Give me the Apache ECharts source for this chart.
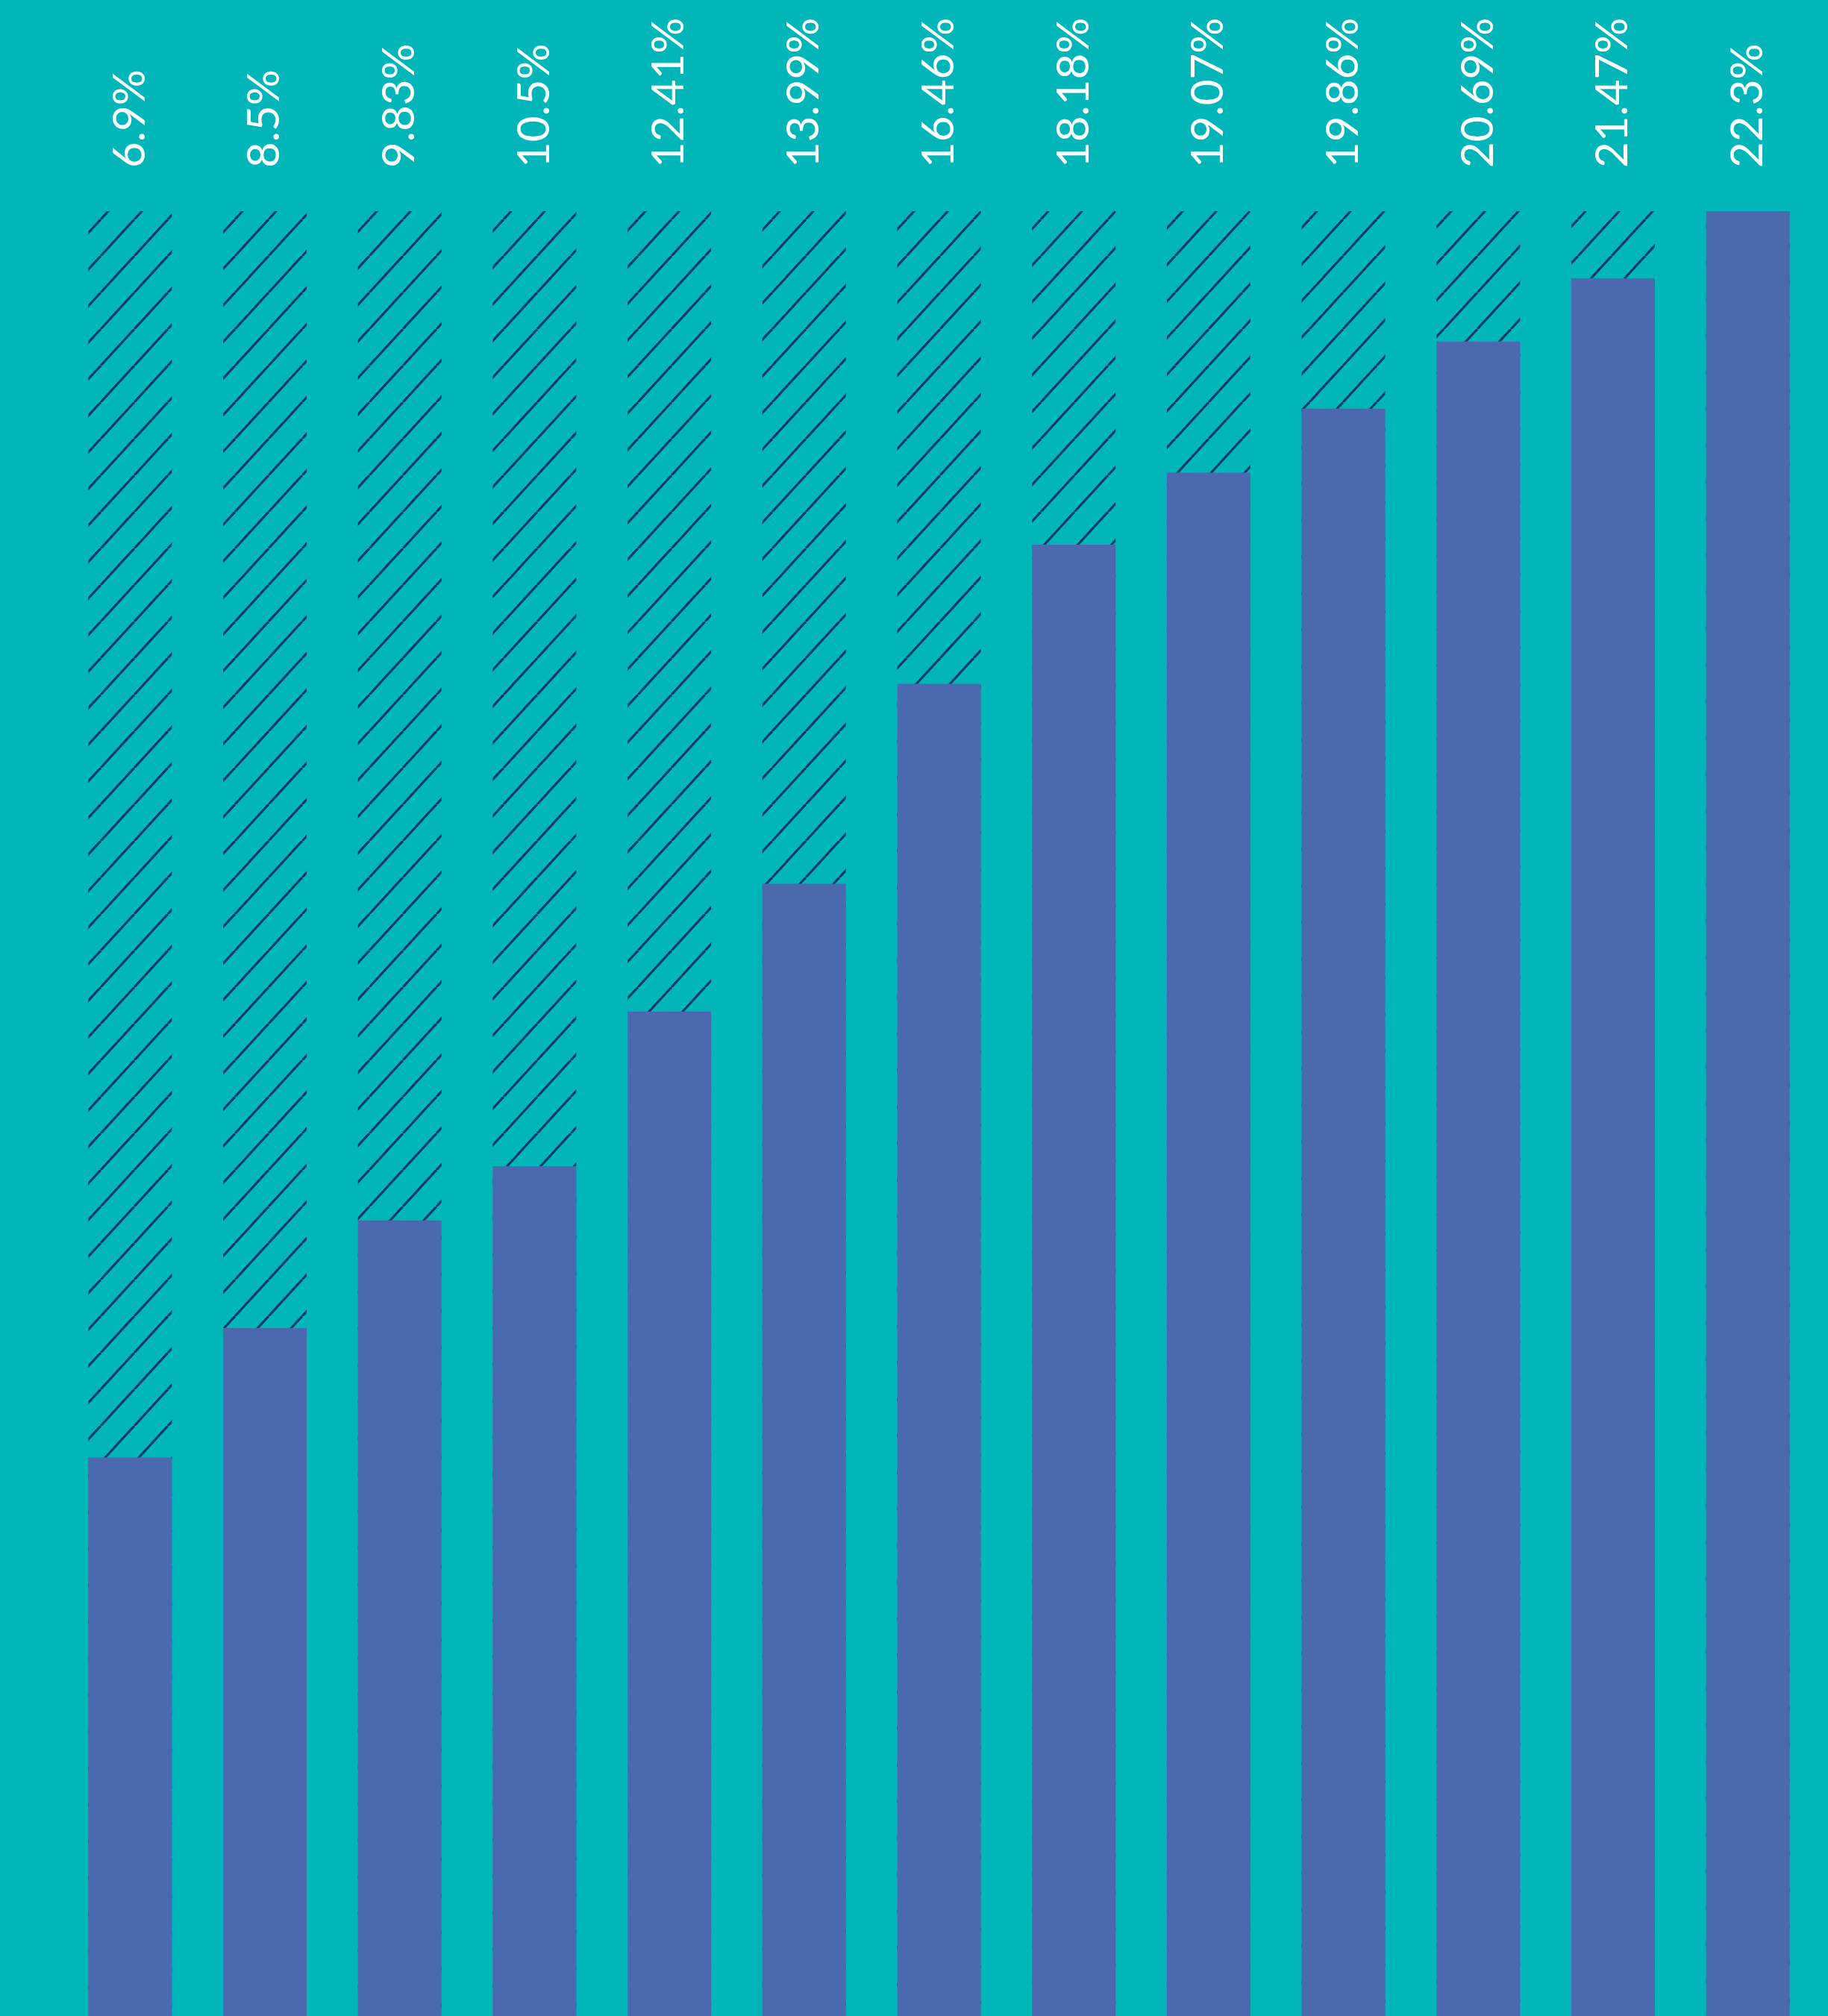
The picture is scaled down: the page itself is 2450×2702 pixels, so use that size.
<!DOCTYPE html>
<html>
<head>
<meta charset="utf-8">
<script src="https://cdn.jsdelivr.net/npm/echarts@6/dist/echarts.min.js"></script>
<style>
html,body{margin:0;padding:0;background:#00B6B9;}
#chart{width:2450px;height:2702px;}
</style>
</head>
<body>
<div id="chart"></div>
<script>
const categories = ['1','2','3','4','5','6','7','8','9','10','11','12','13'];
const values = [6.9, 8.5, 9.83, 10.5, 12.41, 13.99, 16.46, 18.18, 19.07, 19.86, 20.69, 21.47, 22.3];
const maxValue = Math.max(...values);
const backdrop = categories.map(() => maxValue);

// hatch pattern tile
const tw = 45, th = 49;
const tile = document.createElement('canvas');
tile.width = tw; tile.height = th;
const ctx = tile.getContext('2d');
ctx.fillStyle = '#00B6B9';
ctx.fillRect(0, 0, tw, th);
ctx.strokeStyle = '#0C3868';
ctx.lineWidth = 3.2;
for (const o of [-1, 0, 1]) {
  ctx.beginPath();
  ctx.moveTo(o * tw, th);
  ctx.lineTo(o * tw + tw, 0);
  ctx.stroke();
}

const chart = echarts.init(document.getElementById('chart'), null, {renderer: 'canvas'});
chart.setOption({
  backgroundColor: '#00B6B9',
  animation: false,
  grid: {left: 84, top: 283, width: 2349, height: 2433, containLabel: false},
  xAxis: {type: 'category', data: categories, show: false},
  yAxis: {type: 'value', min: 0, max: maxValue, show: false},
  series: [
    {
      type: 'bar',
      data: backdrop,
      barWidth: 112,
      barGap: '-100%',
      itemStyle: {color: {image: tile, repeat: 'repeat'}},
      label: {
        show: true,
        position: 'top',
        rotate: 90,
        align: 'left',
        verticalAlign: 'middle',
        distance: 58,
        color: '#FFFFFF',
        fontFamily: 'Lato',
        fontWeight: 400,
        fontSize: 60,
        formatter: p => values[p.dataIndex] + '%'
      },
      silent: true
    },
    {
      type: 'bar',
      data: values,
      barWidth: 112,
      barGap: '-100%',
      itemStyle: {color: '#4B69AF'}
    }
  ]
});
</script>
</body>
</html>
